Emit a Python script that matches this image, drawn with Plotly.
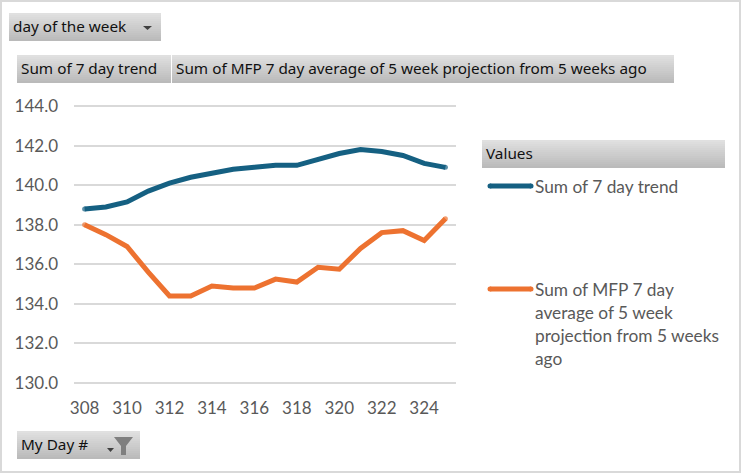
import plotly.graph_objects as go

days = list(range(308, 326))
trend = [138.8, 138.9, 139.15, 139.7, 140.1, 140.4, 140.6, 140.8, 140.9, 141.0, 141.0, 141.3, 141.6, 141.8, 141.7, 141.5, 141.1, 140.9]
mfp = [138.0, 137.5, 136.9, 135.6, 134.4, 134.4, 134.9, 134.8, 134.8, 135.25, 135.1, 135.85, 135.75, 136.8, 137.6, 137.7, 137.2, 138.3]
name_trend = "Sum of 7 day trend"
name_mfp = "Sum of MFP 7 day average of 5 week projection from 5 weeks ago"
legend_lines_trend = ["Sum of 7 day trend"]
legend_lines_mfp = ["Sum of MFP 7 day", "average of 5 week", "projection from 5 weeks", "ago"]
button_labels = ["day of the week", "Sum of 7 day trend", "Sum of MFP 7 day average of 5 week projection from 5 weeks ago", "Values", "My Day #"]

W, H = 741, 473
PAD = 2  # plot area is 2 px taller each way so the 130 and 144 gridlines are kept
L, R, T, B = 74, 285, 106 - PAD, 90 - PAD
FONT = "Lato"
BTN = "Noto Sans"
GREY = "#595959"
BLUE = "#156082"
ORANGE = "#ED7230"
SIZE = 17
LW = 5
UNIT_PAD = PAD * 14 / 277


def px(x):
    return (x - L) / (W - L - R)


def py(y):
    return 1 - (y - T) / (H - T - B)


shapes, annotations = [], []


def button(x0, y0, x1, y1, label):
    n = 14
    top, bot = (224, 224, 224), (186, 186, 186)
    for i in range(n):
        t = i / (n - 1)
        c = tuple(round(a + (b - a) * t) for a, b in zip(top, bot))
        shapes.append(dict(type="rect", xref="paper", yref="paper", layer="below",
                           x0=px(x0), x1=px(x1),
                           y0=py(y0 + (y1 - y0) * i / n), y1=py(y0 + (y1 - y0) * (i + 1) / n),
                           line_width=0, fillcolor="rgb(%d,%d,%d)" % c))
    annotations.append(dict(text=label, xref="paper", yref="paper", x=px(x0 + 2), y=py((y0 + y1) / 2 - 1),
                            xanchor="left", yanchor="middle", showarrow=False,
                            font=dict(family=BTN, size=15.3, color="#111111")))


def polygon(points, color):
    d = "M" + " L".join("%.5f,%.5f" % (px(a), py(b)) for a, b in points) + " Z"
    shapes.append(dict(type="path", xref="paper", yref="paper", path=d, fillcolor=color, line_width=0))


def legend_entry(y, lines, color):
    shapes.append(dict(type="line", xref="paper", yref="paper", x0=px(490), x1=px(531), y0=py(y), y1=py(y),
                       line=dict(color=color, width=LW)))
    for cx in (490, 531):
        shapes.append(dict(type="circle", xref="paper", yref="paper", x0=px(cx - LW / 2), x1=px(cx + LW / 2),
                           y0=py(y - LW / 2), y1=py(y + LW / 2), fillcolor=color, line_width=0))
    for i, text in enumerate(lines):
        annotations.append(dict(text=text, xref="paper", yref="paper", x=px(533), y=py(y + 23 * i),
                                xanchor="left", yanchor="middle", showarrow=False,
                                font=dict(family=FONT, size=17.3, color=GREY)))


button(9, 13, 161, 41, button_labels[0])
button(17, 55, 171, 83, button_labels[1])
button(172, 55, 674, 83, button_labels[2])
button(482, 140, 725, 168, button_labels[3])
button(17, 431, 140, 459, button_labels[4])
polygon([(143, 26), (152, 26), (147.5, 30)], "#404040")
polygon([(107, 448), (114, 448), (110.5, 452)], "#404040")
polygon([(114, 437), (133, 437), (126, 446), (126, 455), (121, 455), (121, 446)], "#7f7f7f")
shapes.append(dict(type="rect", xref="paper", yref="paper", x0=px(1), x1=px(W - 1), y0=py(1), y1=py(H - 1),
                   line=dict(color="#d9d9d9", width=2), layer="below"))
legend_entry(186, legend_lines_trend, BLUE)
legend_entry(289, legend_lines_mfp, ORANGE)

end_sizes = [LW] + [0] * (len(days) - 2) + [LW]
fig = go.Figure()
fig.add_trace(go.Scatter(x=days, y=trend, mode="lines+markers", name=name_trend, cliponaxis=False, showlegend=False,
                         line=dict(color=BLUE, width=LW), marker=dict(color=BLUE, size=end_sizes, line_width=0)))
fig.add_trace(go.Scatter(x=days, y=mfp, mode="lines+markers", name=name_mfp, cliponaxis=False, showlegend=False,
                         line=dict(color=ORANGE, width=LW), marker=dict(color=ORANGE, size=end_sizes, line_width=0)))
fig.update_layout(
    width=W, height=H, margin=dict(l=L, r=R, t=T, b=B), paper_bgcolor="white", plot_bgcolor="white",
    shapes=shapes, annotations=annotations, hovermode=False,
    font=dict(family=FONT, size=SIZE, color=GREY),
    xaxis=dict(range=[307.5, 325.5], tick0=308, dtick=2, showgrid=False, showline=False, zeroline=False,
               ticks="", ticklen=0, ticklabelstandoff=11, tickfont=dict(family=FONT, size=SIZE, color=GREY)),
    yaxis=dict(range=[130 - UNIT_PAD, 144 + UNIT_PAD], tick0=130, dtick=2, tickformat=".1f", gridcolor="#d9d9d9", gridwidth=2, zeroline=False,
               showline=False, ticks="", ticklabelstandoff=15, tickfont=dict(family=FONT, size=SIZE, color=GREY)),
)
fig.write_html("out.html", config={"displayModeBar": False},
               post_script="document.body.style.margin='0';")
